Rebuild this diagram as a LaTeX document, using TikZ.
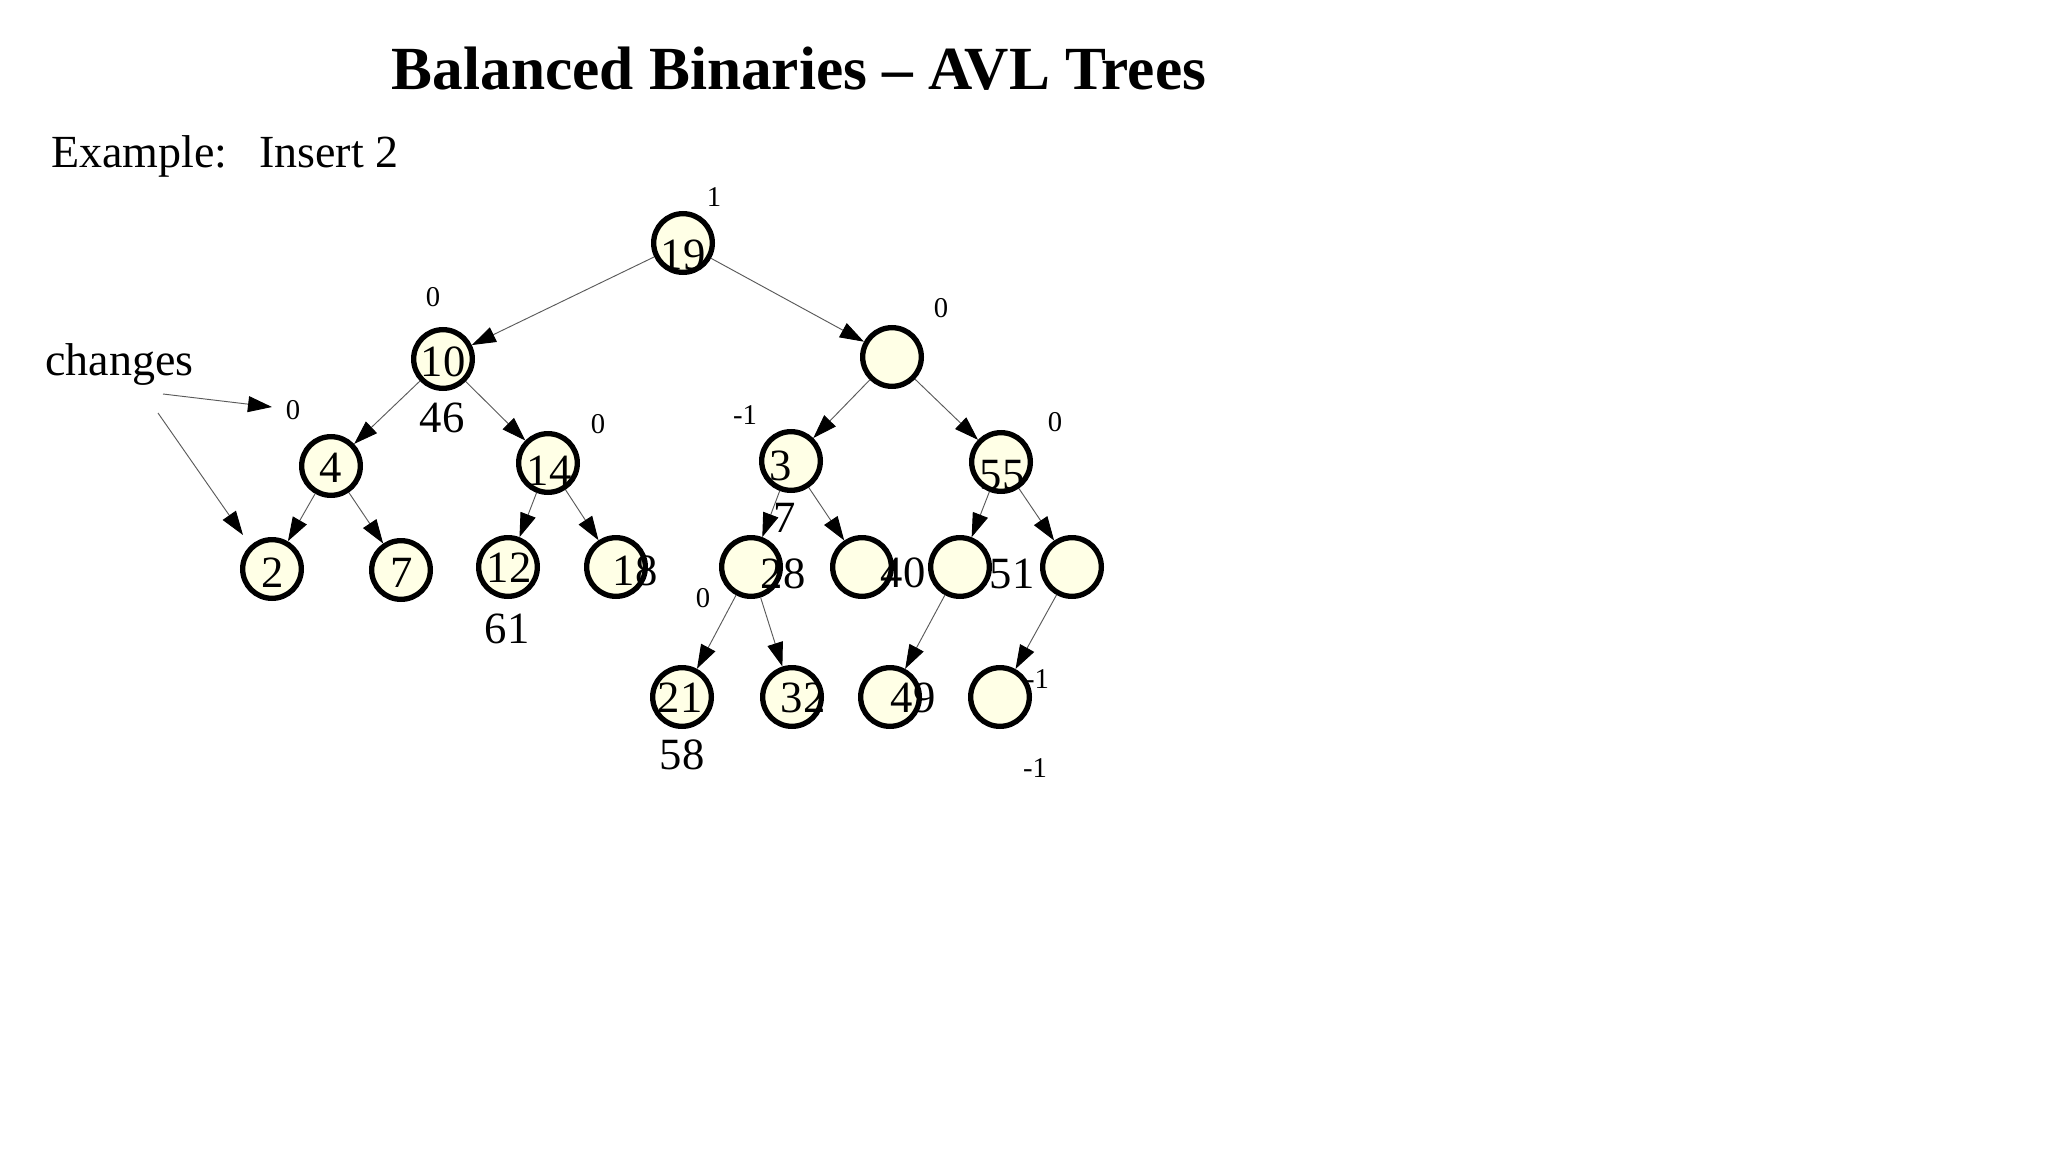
\documentclass[tikz,border=0pt]{standalone}
\usepackage{fontspec}
\setmainfont{Liberation Serif}
\usetikzlibrary{arrows.meta}

\definecolor{avlfill}{RGB}{255,255,230}
\definecolor{linkgray}{RGB}{90,90,90}

\begin{document}
\begin{tikzpicture}[x=0.75pt,y=0.75pt,yscale=-1,xscale=1,
	avl/.style={circle,draw=black,line width=4pt,fill=avlfill,minimum size=44pt,inner sep=0pt},
	link/.style={draw=linkgray,line width=0.7pt,-{Triangle[length=18pt,width=12pt,color=black]}},
	num/.style={inner sep=0pt,font=\fontsize{33.5}{38}\selectfont},
	bal/.style={inner sep=0pt,font=\fontsize{21.5}{24}\selectfont},
	txt/.style={inner sep=0pt,anchor=base west,font=\fontsize{34.5}{40}\selectfont}]

	\useasboundingbox (0,0) rectangle (2048,1152);

	% Text box: Titel und Beschriftung
	\node [inner sep=0pt,font=\fontsize{46}{54}\selectfont\bfseries] (title) at (799,69) {Balanced Binaries -- AVL Trees};
	\node [txt] (example) at (51,167) {Example:};
	\node [txt] (insert) at (259,167) {Insert 2};
	\node [txt] (changes) at (45,375) {changes};

	% Text box: liegt hinter dem Kreis
	\node [bal] (balL) at (1037,679) {-1};

	% Shape: Kreise
	\node [avl] (n19) at (683,243) {};
	\node [avl] (n10) at (443,359) {};
	\node [avl] (nR) at (892,357) {};
	\node [avl] (n4) at (331,466) {};
	\node [avl] (n14) at (548,463) {};
	\node [avl] (n3) at (791,461) {};
	\node [avl] (n55) at (1001,462) {};
	\node [avl] (n2) at (272,569) {};
	\node [avl] (n7) at (401,570) {};
	\node [avl] (n12) at (508,567) {};
	\node [avl] (n18) at (616,567) {};
	\node [avl] (n28) at (751,567) {};
	\node [avl] (n40) at (862,567) {};
	\node [avl] (n51) at (960,567) {};
	\node [avl] (nE) at (1072,567) {};
	\node [avl] (n21) at (682,697) {};
	\node [avl] (n32) at (792,697) {};
	\node [avl] (n49) at (890,697) {};
	\node [avl] (nL) at (1000,697) {};

	% Shape: Kanten
	\draw [link] (n19) -- (n10);
	\draw [link] (n19) -- (nR);
	\draw [link] (n10) -- (n4);
	\draw [link] (n10) -- (n14);
	\draw [link] (nR) -- (n3);
	\draw [link] (nR) -- (n55);
	\draw [link] (n4) -- (n2);
	\draw [link] (n4) -- (n7);
	\draw [link] (n14) -- (n12);
	\draw [link] (n14) -- (n18);
	\draw [link] (n3) -- (n28);
	\draw [link] (n3) -- (n40);
	\draw [link] (n55) -- (n51);
	\draw [link] (n55) -- (nE);
	\draw [link] (n28) -- (n21);
	\draw [link] (n28) -- (n32);
	\draw [link] (n51) -- (n49);
	\draw [link] (nE) -- (nL);

	% Shape: Pfeile von "changes"
	\coordinate (chgA) at (163,394);
	\coordinate (chgAend) at (272,407);
	\coordinate (chgB) at (158,413);
	\coordinate (chgBend) at (243,535);
	\draw [link] (chgA) -- (chgAend);
	\draw [link] (chgB) -- (chgBend);

	% Text box: Schluessel
	\node [num] (t19) at (683,255) {19};
	\node [num] (t10) at (443,362) {10};
	\node [num] (t46) at (442,418) {46};
	\node [num] (t4) at (331,468) {4};
	\node [num] (t14) at (549,471) {14};
	\node [num] (t3) at (781,466) {3};
	\node [num] (t55) at (1002,475) {55};
	\node [num] (t2) at (273,573) {2};
	\node [num] (t7) at (402,573) {7};
	\node [num] (t12) at (509,568) {12};
	\node [num] (t18) at (635,571) {18};
	\node [num] (t61) at (507,629) {61};
	\node [num] (t7b) at (785,518) {7};
	\node [num] (t28) at (783,574) {28};
	\node [num] (t40) at (903,573) {40};
	\node [num] (t51) at (1012,574) {51};
	\node [num] (t21) at (680,698) {21};
	\node [num] (t32) at (803,698) {32};
	\node [num] (t49) at (913,698) {49};
	\node [num] (t58) at (682,755) {58};

	% Text box: Balancefaktoren
	\node [bal] (b19) at (714,197) {1};
	\node [bal] (b10) at (433,297) {0};
	\node [bal] (bR) at (941,308) {0};
	\node [bal] (b4) at (293,410) {0};
	\node [bal] (b14) at (598,424) {0};
	\node [bal] (b3) at (745,415) {-1};
	\node [bal] (b55) at (1055,422) {0};
	\node [bal] (b28) at (703,598) {0};
	\node [bal] (bLow) at (1035,768) {-1};

\end{tikzpicture}
\end{document}
